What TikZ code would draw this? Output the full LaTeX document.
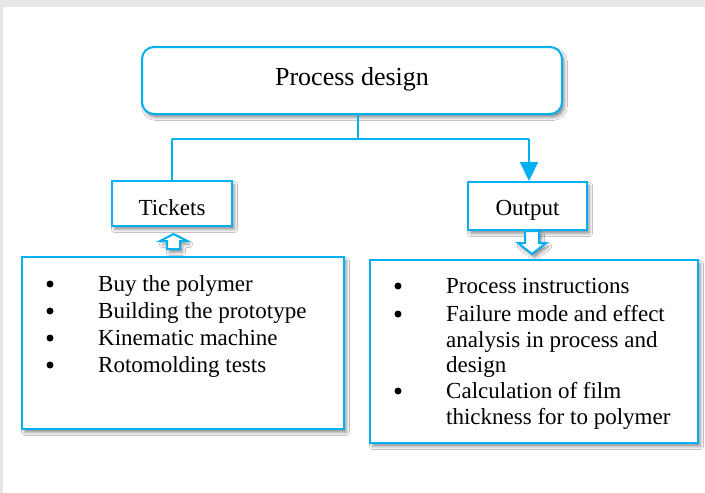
\documentclass[tikz,border=0pt]{standalone}
\usepackage{fontspec}
\setmainfont{Liberation Serif}
\usetikzlibrary{arrows.meta,shadows,shadows.blur}
\definecolor{skyline}{HTML}{00B0F0}
\definecolor{framegrey}{HTML}{E6E7E9}
\tikzset{
  boxshadow/.style={blur shadow={shadow xshift=2.5pt,shadow yshift=-3.5pt,shadow blur radius=3pt,shadow blur steps=6,shadow opacity=45}},
  titlebox/.style={draw=skyline,line width=2pt,rounded corners=12pt,fill=white,boxshadow,inner sep=0pt},
  plainbox/.style={draw=skyline,line width=2pt,fill=white,boxshadow,inner sep=0pt},
  link/.style={draw=skyline,line width=2pt},
  hollowarrow/.style={draw=skyline,line width=2pt,fill=white,line join=miter,boxshadow},
  bigtext/.style={font=\fontsize{26}{30}\selectfont,inner sep=0pt,anchor=base},
  bodytext/.style={font=\fontsize{23}{27}\selectfont,inner sep=0pt,anchor=base west},
  midtext/.style={font=\fontsize{23}{27}\selectfont,inner sep=0pt,anchor=base},
  dot/.style={circle,fill=black,inner sep=0pt,minimum size=7pt},
}
\begin{document}
\begin{tikzpicture}[x=1pt,y=-1pt]
  % page frame
  \fill[framegrey] (0,0) rectangle (705,493);
  \fill[white] (3,7) rectangle (705,493);
  \useasboundingbox (0,0) rectangle (705,493);

  % top box
  \node[titlebox,minimum width=420pt,minimum height=67pt] (title) at (352,80.5) {};
  \node[bigtext] (titletxt) at (352,85) {Process design};

  % branch boxes
  \node[plainbox,minimum width=120pt,minimum height=45pt] (tickets) at (172,203.5) {};
  \node[midtext] (ticketstxt) at (172,215) {Tickets};
  \node[plainbox,minimum width=119pt,minimum height=48pt] (output) at (527.5,206) {};
  \node[midtext] (outputtxt) at (527.5,215) {Output};

  % connectors
  \coordinate (junction) at (358,139);
  \coordinate (leftcorner) at (172,139);
  \coordinate (rightcorner) at (529,139);
  \coordinate (rightend) at (529,181);
  \draw[link] (junction |- title.south) -- (junction);
  \draw[link] (leftcorner) -- (rightcorner);
  \draw[link] (leftcorner) -- (tickets.north);
  \draw[link,-{Triangle[length=19pt,width=18pt]}] (rightcorner) -- (rightend);

  % hollow block arrows
  \draw[hollowarrow] (173.5,234) -- (187,241) -- (180,241) -- (180,249)
        -- (167,249) -- (167,241) -- (160,241) -- cycle;
  \draw[hollowarrow] (525,231) -- (539,231) -- (539,243) -- (546,243)
        -- (532,254) -- (518,243) -- (525,243) -- cycle;

  % list boxes
  \node[plainbox,minimum width=322pt,minimum height=172pt] (inputs) at (183,343) {};
  \node[plainbox,minimum width=328pt,minimum height=183pt] (results) at (534,351.5) {};

  % left list
  \node[dot] (b1) at (50,284) {};
  \node[bodytext] (l1) at (98,291) {Buy the polymer};
  \node[dot] (b2) at (50,311) {};
  \node[bodytext] (l2) at (98,318) {Building the prototype};
  \node[dot] (b3) at (50,338) {};
  \node[bodytext] (l3) at (98,345) {Kinematic machine};
  \node[dot] (b4) at (50,365) {};
  \node[bodytext] (l4) at (98,372) {Rotomolding tests};

  % right list
  \node[dot] (c1) at (398,286) {};
  \node[bodytext] (r1) at (446,293) {Process instructions};
  \node[dot] (c2) at (398,314) {};
  \node[bodytext] (r2) at (446,321) {Failure mode and effect};
  \node[bodytext] (r3) at (446,347) {analysis in process and};
  \node[bodytext] (r4) at (446,372) {design};
  \node[dot] (c3) at (398,391) {};
  \node[bodytext] (r5) at (446,398) {Calculation of film};
  \node[bodytext] (r6) at (446,424) {thickness for to polymer};
\end{tikzpicture}
\end{document}
